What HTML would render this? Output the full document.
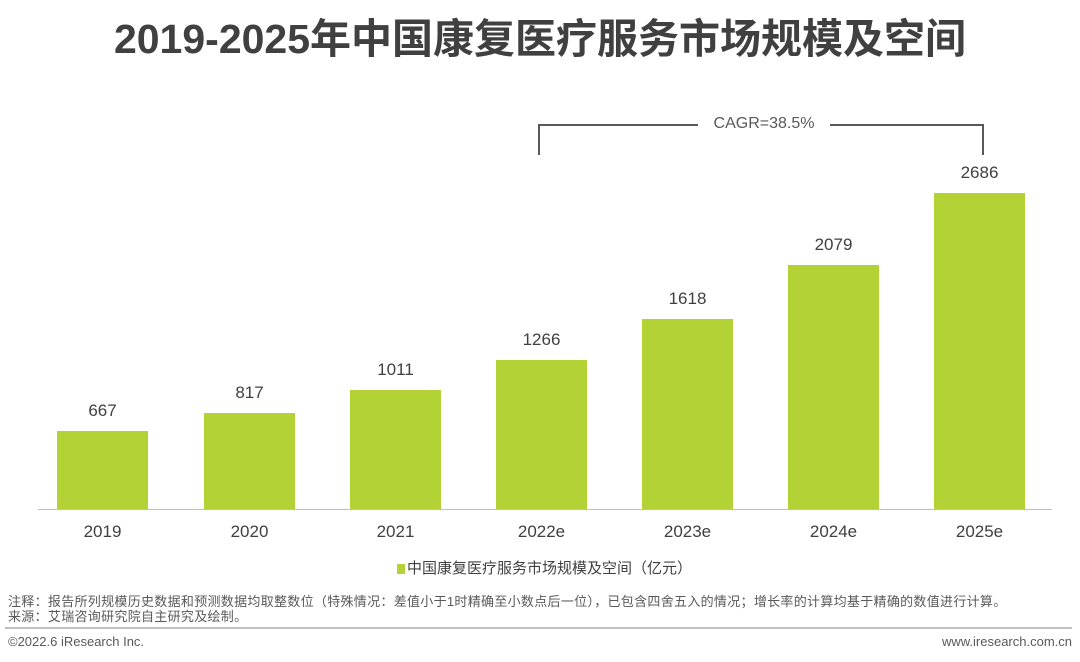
<!DOCTYPE html>
<html><head><meta charset="utf-8"><style>
body{margin:0;width:1080px;height:662px;background:#fff;position:relative;overflow:hidden;font-family:"Liberation Sans","Noto Sans CJK SC",sans-serif;color:#404040}
.a{position:absolute}
.bar{position:absolute;background:#b2d235;width:91px}
.v{position:absolute;width:91px;text-align:center;font-size:17px;color:#404040}
.x{position:absolute;width:91px;text-align:center;font-size:17px;top:522px;color:#404040}
</style></head><body>
<div class="a" style="left:0;width:1080px;top:14px;text-align:center;font-size:41px;font-weight:bold;letter-spacing:0;color:#404040;line-height:50px">2019-2025年中国康复医疗服务市场规模及空间</div>

<div class="a" style="left:538px;top:124px;width:446px;height:31px;border:2px solid #595959;border-bottom:none;box-sizing:border-box"></div>
<div class="a" style="left:698px;top:112px;width:132px;height:24px;background:#fff;text-align:center;font-size:16px;line-height:24px;color:#595959">CAGR=38.5%</div>

<div class="a" style="left:38px;top:509px;width:1014px;height:1px;background:#bfbfbf"></div>

<div class="bar" style="left:57px;top:431px;height:78px"></div><div class="v" style="left:57px;top:401px">667</div><div class="x" style="left:57px">2019</div>
<div class="bar" style="left:204px;top:413px;height:96px"></div><div class="v" style="left:204px;top:383px">817</div><div class="x" style="left:204px">2020</div>
<div class="bar" style="left:350px;top:390px;height:119px"></div><div class="v" style="left:350px;top:360px">1011</div><div class="x" style="left:350px">2021</div>
<div class="bar" style="left:496px;top:360px;height:149px"></div><div class="v" style="left:496px;top:330px">1266</div><div class="x" style="left:496px">2022e</div>
<div class="bar" style="left:642px;top:319px;height:190px"></div><div class="v" style="left:642px;top:289px">1618</div><div class="x" style="left:642px">2023e</div>
<div class="bar" style="left:788px;top:265px;height:244px"></div><div class="v" style="left:788px;top:235px">2079</div><div class="x" style="left:788px">2024e</div>
<div class="bar" style="left:934px;top:193px;height:316px"></div><div class="v" style="left:934px;top:163px">2686</div><div class="x" style="left:934px">2025e</div>

<div class="a" style="left:397px;top:564px;width:8px;height:10px;background:#b2d235"></div>
<div class="a" style="left:407px;top:559px;font-size:15px;line-height:20px;color:#404040">中国康复医疗服务市场规模及空间（亿元）</div>

<div class="a" style="left:8px;top:594px;font-size:13px;line-height:15px;color:#595959;letter-spacing:0.3px">注释：报告所列规模历史数据和预测数据均取整数位（特殊情况：差值小于1时精确至小数点后一位），已包含四舍五入的情况；增长率的计算均基于精确的数值进行计算。<br>来源：艾瑞咨询研究院自主研究及绘制。</div>
<div class="a" style="left:5px;top:627px;width:1067px;height:2px;background:#bfbfbf"></div>
<div class="a" style="left:8px;top:633px;font-size:13px;line-height:17px;color:#595959">©2022.6 iResearch Inc.</div>
<div class="a" style="right:8px;top:633px;font-size:13px;line-height:17px;color:#595959">www.iresearch.com.cn</div>
</body></html>
